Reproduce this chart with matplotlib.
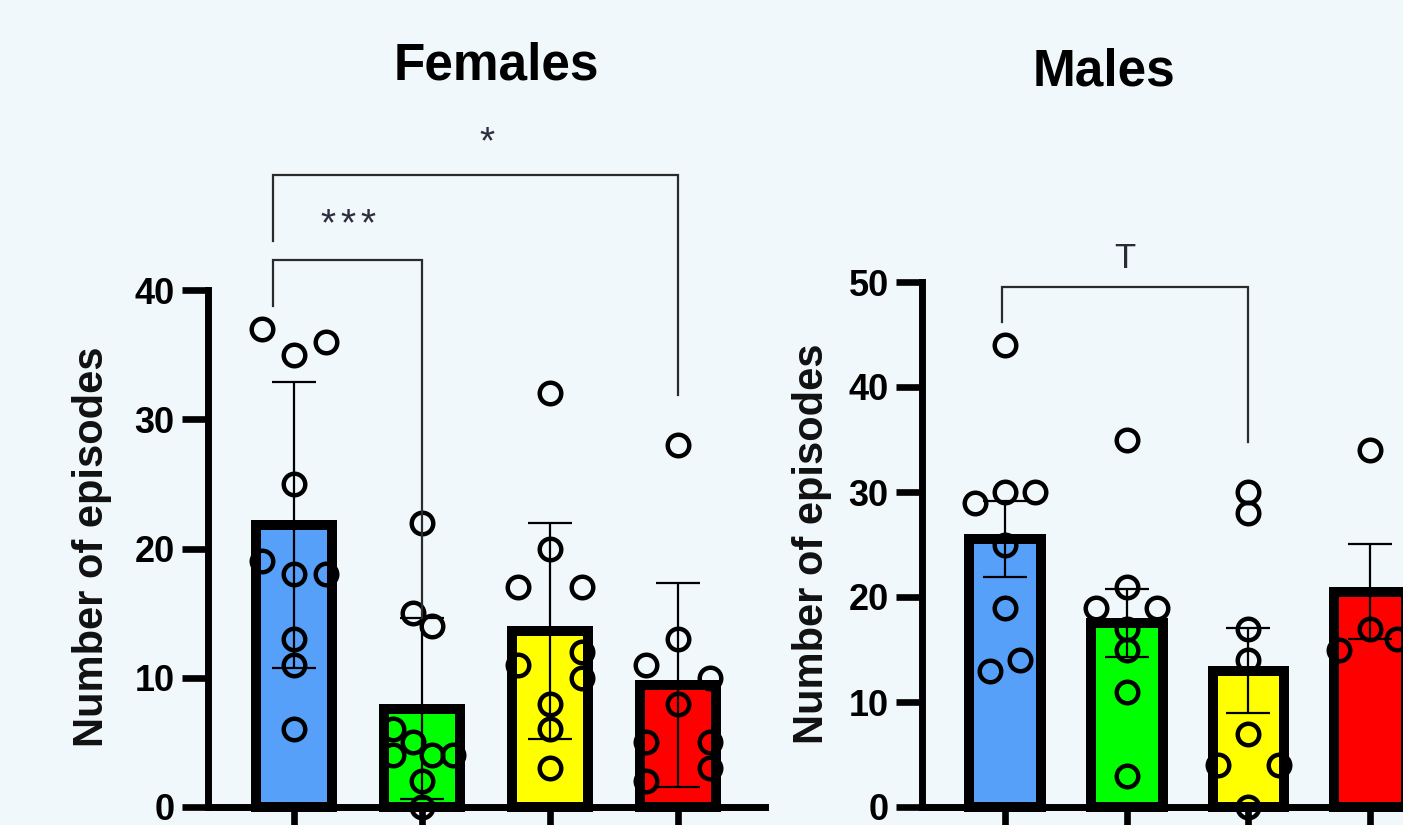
import numpy as np
import matplotlib
matplotlib.use("Agg")
import matplotlib.pyplot as plt

plt.rcParams['font.family'] = ['Liberation Sans', 'DejaVu Sans']

# ---- data: individual animals (episode counts) per group ----
groups = ["G1", "G2", "G3", "G4"]
bar_colors = ["#56A0F9", "#00FF00", "#FFFF00", "#FF0000"]

fem_g1 = [37, 35, 36, 25, 19, 18, 18, 13, 11, 6]
fem_g2 = [22, 15, 14, 6, 5, 4, 4, 4, 2, 0]
fem_g3 = [32, 20, 17, 17, 11, 12, 10, 8, 6, 3]
fem_g4 = [28, 13, 11, 10, 8, 5, 5, 3, 2]

mal_g1 = [44, 29, 30, 30, 25, 19, 14, 13]
mal_g2 = [35, 21, 19, 19, 17, 15, 11, 3]
mal_g3 = [30, 28, 17, 14, 7, 4, 4, 0]
mal_g4 = [34, 17, 15, 16]

fem_yticks = [0, 10, 20, 30, 40]
mal_yticks = [0, 10, 20, 30, 40, 50]

# horizontal scatter offsets of the dots (layout only)
fem_dx = [
    [-0.25, 0, 0.25, 0, -0.25, 0, 0.25, 0, 0, 0],
    [0, -0.07, 0.08, -0.23, -0.07, -0.23, 0.08, 0.24, 0, 0],
    [0, 0, -0.25, 0.25, -0.25, 0.25, 0.25, 0, 0, 0],
    [0, 0, -0.25, 0.25, 0, -0.25, 0.25, 0.25, -0.25],
]
mal_dx = [
    [0, -0.25, 0, 0.25, 0, 0, 0.12, -0.12],
    [0, 0, -0.25, 0.25, 0, 0, 0, 0],
    [0, 0, 0, 0, 0, -0.25, 0.25, 0],
    [0, 0, -0.26, 0.22],
]

BG = "#F0F8FB"
W, H = 1403, 825
DPI = 100
fig = plt.figure(figsize=(W / DPI, H / DPI), dpi=DPI, facecolor=BG)


def px_axes(x0, x1, y0, y1):
    """Axes from a pixel box (x0..x1 left-right, y0 bottom / y1 top, from top)."""
    return fig.add_axes([x0 / W, (H - y0) / H, (x1 - x0) / W, (y0 - y1) / H])


def panel(ax, data, offsets, yticks, err_kind, xlim):
    ax.set_facecolor(BG)
    x = np.arange(len(data))
    means = np.array([np.mean(d) for d in data])
    sds = np.array([np.std(d, ddof=1) for d in data])
    if err_kind == "sem":
        errs = sds / np.sqrt([len(d) for d in data])
    else:
        errs = sds
    ax.bar(x, means, width=0.59, color=bar_colors, edgecolor="black",
           linewidth=7.2, zorder=2, clip_on=False)
    ax.errorbar(x, means, yerr=errs, fmt="none", ecolor="black",
                elinewidth=1.6, capsize=16, capthick=1.6, zorder=3,
                clip_on=False)
    for i, (vals, dx) in enumerate(zip(data, offsets)):
        ax.plot(i + np.array(dx), vals, linestyle="none", marker="o",
                markersize=15.5, markerfacecolor="none",
                markeredgecolor="black", markeredgewidth=3.2,
                zorder=4, clip_on=False)
    ax.set_xlim(*xlim)
    ax.set_ylim(yticks[0], yticks[-1])
    ax.set_yticks(yticks)
    ax.set_xticks(x)
    ax.set_xticklabels([])
    for s in ("top", "right"):
        ax.spines[s].set_visible(False)
    for s in ("left", "bottom"):
        ax.spines[s].set_linewidth(5)
        ax.spines[s].set_capstyle("projecting")
    ax.tick_params(axis="both", length=19, width=4.8, pad=5, color="black")
    for lab in ax.get_yticklabels():
        lab.set_fontsize(26)
        lab.set_fontweight("bold")


def bracket(ax, x0, x1, y, y0, y1, lw=1.6):
    ax.plot([x0, x0, x1, x1], [y0, y, y, y1], color="#2b2b2b",
            linewidth=lw, clip_on=False, zorder=5, solid_joinstyle="miter")


def stars(ax, xs, y, size=28):
    for xx in xs:
        ax.text(xx, y, "*", ha="center", va="baseline", fontsize=size,
                color="#2e2e3e", clip_on=False)


# Females panel
axf = px_axes(208, 765, 807, 290)
panel(axf, [fem_g1, fem_g2, fem_g3, fem_g4], fem_dx, fem_yticks, "sd",
      (-0.672, 3.68))
bracket(axf, -0.164, 1.0, 42.3, 38.8, 14.6)
bracket(axf, -0.164, 3.0, 48.9, 43.8, 31.9)
stars(axf, [1.508], 50.6)
stars(axf, [0.266, 0.422, 0.578], 44.2)

# Males panel
axm = px_axes(922, 1453, 807, 282)
panel(axm, [mal_g1, mal_g2, mal_g3, mal_g4], mal_dx, mal_yticks, "sem",
      (-0.682, 3.68))
bracket(axm, -0.025, 2.0, 49.5, 46.2, 34.8)
axm.text(0.985, 51.3, "T", ha="center", va="baseline", fontsize=25,
         color="#2a2a3a", clip_on=False)

# titles and axis labels
fig.text(496 / W, (H - 80) / H, "Females", ha="center", va="baseline",
         fontsize=37, fontweight="bold")
fig.text(1104 / W, (H - 86) / H, "Males", ha="center", va="baseline",
         fontsize=37, fontweight="bold")
fig.text(92 / W, (H - 547) / H, "Number of episodes", rotation=90,
         ha="center", va="center", fontsize=30, fontweight="bold",
         color="#111111")
fig.text(812 / W, (H - 544) / H, "Number of episodes", rotation=90,
         ha="center", va="center", fontsize=30, fontweight="bold",
         color="#111111")

fig.savefig("out.png", dpi=DPI, facecolor=BG)
